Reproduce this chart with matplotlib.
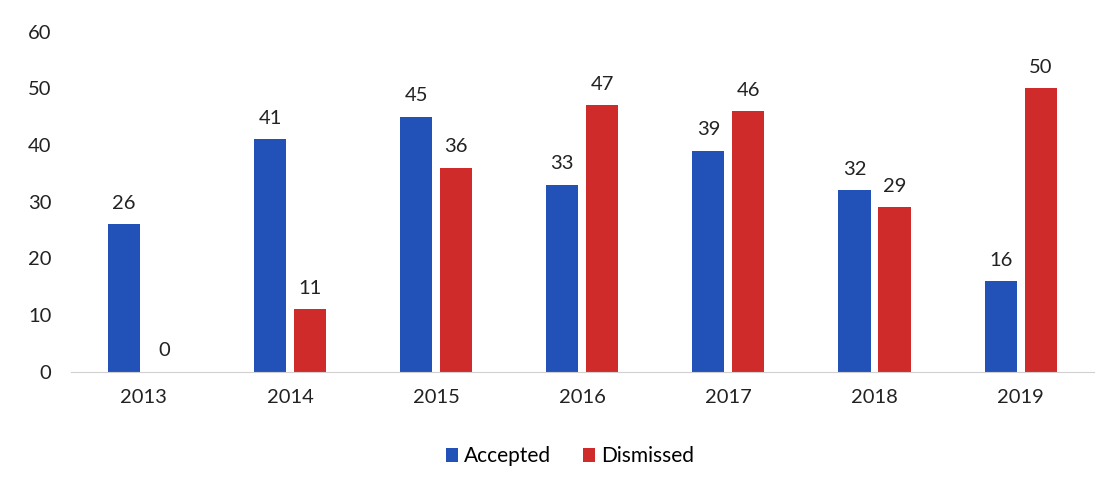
import numpy as np
from matplotlib import pyplot as plt

years = ["2013", "2014", "2015", "2016", "2017", "2018", "2019"]
accepted = [26, 41, 45, 33, 39, 32, 16]
dismissed = [0, 11, 36, 47, 46, 29, 50]

blue = "#2252b8"
red = "#d02b2b"

plt.rcParams['font.family'] = ['Lato', 'DejaVu Sans']

fig = plt.figure(figsize=(11.07, 4.88), dpi=100)
ax = fig.add_axes([0.064, 0.238, 0.924, 0.697])

x = np.arange(len(years))
w = 0.22
off = 0.137
b1 = ax.bar(x - off, accepted, w, color=blue, label="Accepted")
b2 = ax.bar(x + off, dismissed, w, color=red, label="Dismissed")

# value labels above each bar
for bars, vals in ((b1, accepted), (b2, dismissed)):
    for rect, v in zip(bars, vals):
        ax.annotate(str(v), (rect.get_x() + rect.get_width() / 2, v),
                    xytext=(0, 9), textcoords="offset points",
                    ha="center", va="bottom", fontsize=14.5, color="#222222")

ax.set_xlim(-0.5, len(years) - 0.5)
ax.set_ylim(0, 60)
ax.set_yticks(range(0, 61, 10))
ax.set_xticks(x)
ax.set_xticklabels(years)
ax.tick_params(axis="both", length=0, labelsize=14.5, colors="#222222")
ax.tick_params(axis="x", pad=12)
ax.tick_params(axis="y", pad=14)
for s in ["top", "right", "left"]:
    ax.spines[s].set_visible(False)
ax.spines["bottom"].set_color("#d0d0d0")

fig.legend(handles=[b1, b2], loc="center", bbox_to_anchor=(0.515, 0.065),
           ncol=2, frameon=False, fontsize=15, handlelength=0.6,
           handleheight=0.6, handletextpad=0.3, columnspacing=1.5)

fig.savefig("out.png", dpi=100)
